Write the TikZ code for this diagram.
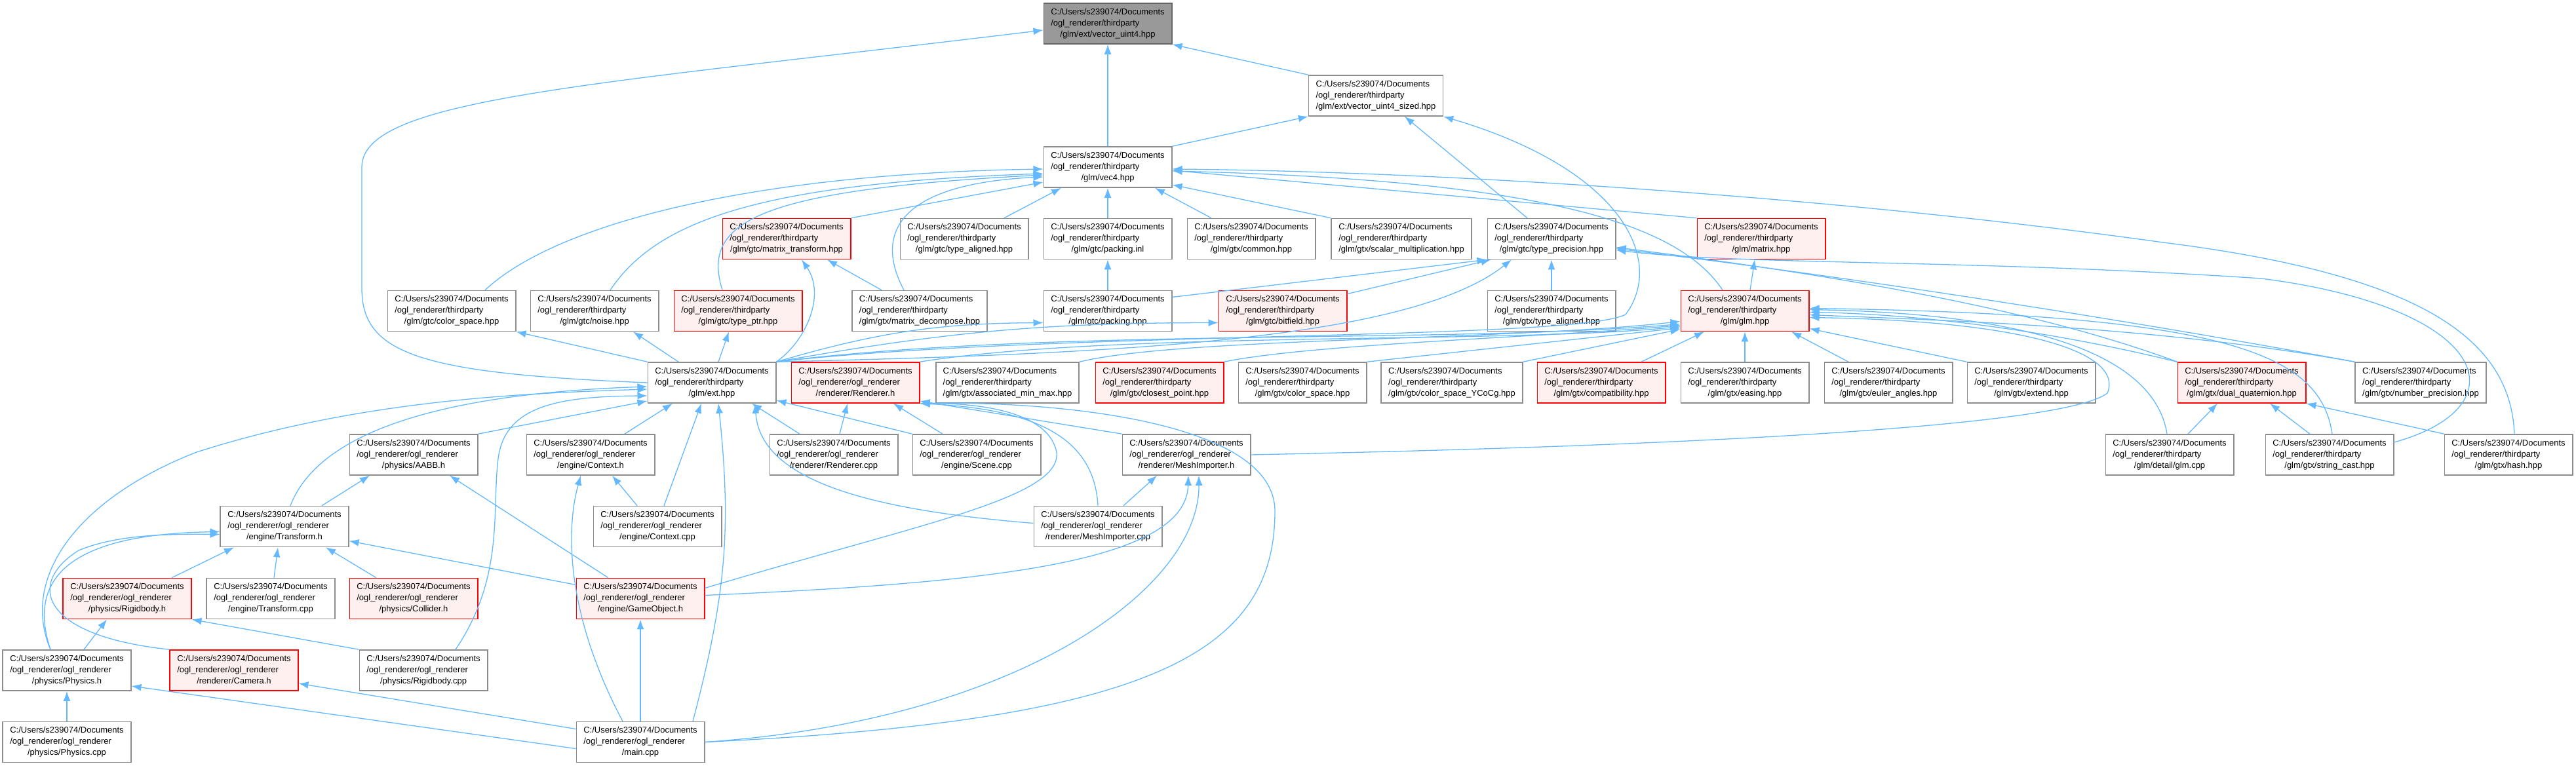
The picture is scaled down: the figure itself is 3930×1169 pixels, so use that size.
\documentclass[tikz,border=0pt]{standalone}
\usepackage{fontspec}
\setmainfont{Liberation Sans}
\usetikzlibrary{arrows.meta}

\definecolor{edgeblue}{HTML}{63B8FF}
\definecolor{boxline}{HTML}{8C8C8C}
\definecolor{rootfill}{HTML}{999999}
\definecolor{rootline}{HTML}{666666}
\definecolor{redfill}{HTML}{FFF0F0}

% three-line file label: first two lines left, last line centred
\newcommand{\fpath}[2]{\begin{tabular}{@{}l@{}}C:/Users/s239074/Documents\\/ogl\_renderer/#1\\\multicolumn{1}{@{}c@{}}{#2}\end{tabular}}

\begin{document}
\begin{tikzpicture}[
  x=1pt, y=-1pt,
  box/.style={draw=boxline, fill=white, line width=1.6pt, inner xsep=11pt, inner ysep=0pt,
              minimum width=195pt, minimum height=62pt, font=\fontsize{13}{17}\selectfont},
  redbox/.style={box, draw=red, fill=redfill},
  rootbox/.style={box, draw=rootline, fill=rootfill},
  arr/.style={-{Latex[length=15pt,width=11pt]}, draw=edgeblue, line width=1.3pt}
]
  \useasboundingbox (0,0) rectangle (3930,1169);

  % top
  \node[rootbox] (uint4)  at (1690,36)  {\fpath{thirdparty}{/glm/ext/vector\_uint4.hpp}};
  \node[box]     (uint4s) at (2099,146) {\fpath{thirdparty}{/glm/ext/vector\_uint4\_sized.hpp}};
  \node[box]     (vec4)   at (1690,255) {\fpath{thirdparty}{/glm/vec4.hpp}};

  % gtc / gtx headers
  \node[redbox] (mtrans)   at (1200,364.5) {\fpath{thirdparty}{/glm/gtc/matrix\_transform.hpp}};
  \node[box]    (gtctal)   at (1471,364.5) {\fpath{thirdparty}{/glm/gtc/type\_aligned.hpp}};
  \node[box]    (packinl)  at (1690,364.5) {\fpath{thirdparty}{/glm/gtc/packing.inl}};
  \node[box]    (common)   at (1909,364.5) {\fpath{thirdparty}{/glm/gtx/common.hpp}};
  \node[box]    (scalmul)  at (2138,364.5) {\fpath{thirdparty}{/glm/gtx/scalar\_multiplication.hpp}};
  \node[box]    (typeprec) at (2367,364.5) {\fpath{thirdparty}{/glm/gtc/type\_precision.hpp}};
  \node[redbox] (matrix)   at (2687,364.5) {\fpath{thirdparty}{/glm/matrix.hpp}};

  \node[box]    (colsp)    at (689,474.5)  {\fpath{thirdparty}{/glm/gtc/color\_space.hpp}};
  \node[box]    (noise)    at (907,474.5)  {\fpath{thirdparty}{/glm/gtc/noise.hpp}};
  \node[redbox] (typeptr)  at (1126,474.5) {\fpath{thirdparty}{/glm/gtc/type\_ptr.hpp}};
  \node[box]    (mdecomp)  at (1403,474.5) {\fpath{thirdparty}{/glm/gtx/matrix\_decompose.hpp}};
  \node[box]    (packing)  at (1690,474.5) {\fpath{thirdparty}{/glm/gtc/packing.hpp}};
  \node[redbox] (bitfield) at (1957,474.5) {\fpath{thirdparty}{/glm/gtc/bitfield.hpp}};
  \node[box]    (gtxtal)   at (2367,474.5) {\fpath{thirdparty}{/glm/gtx/type\_aligned.hpp}};
  \node[redbox] (glm)      at (2662,474.5) {\fpath{thirdparty}{/glm/glm.hpp}};

  \node[box]    (ext)      at (1086,584) {\fpath{thirdparty}{/glm/ext.hpp}};
  \node[redbox] (rendh)    at (1305,584) {\fpath{ogl\_renderer}{/renderer/Renderer.h}};
  \node[box]    (assoc)    at (1537,584) {\fpath{thirdparty}{/glm/gtx/associated\_min\_max.hpp}};
  \node[redbox] (closest)  at (1769,584) {\fpath{thirdparty}{/glm/gtx/closest\_point.hpp}};
  \node[box]    (gtxcolsp) at (1987,584) {\fpath{thirdparty}{/glm/gtx/color\_space.hpp}};
  \node[box]    (ycocg)    at (2215,584) {\fpath{thirdparty}{/glm/gtx/color\_space\_YCoCg.hpp}};
  \node[redbox] (compat)   at (2443,584) {\fpath{thirdparty}{/glm/gtx/compatibility.hpp}};
  \node[box]    (easing)   at (2662,584) {\fpath{thirdparty}{/glm/gtx/easing.hpp}};
  \node[box]    (euler)    at (2881,584) {\fpath{thirdparty}{/glm/gtx/euler\_angles.hpp}};
  \node[box]    (extend)   at (3099,584) {\fpath{thirdparty}{/glm/gtx/extend.hpp}};
  \node[redbox] (dualq)    at (3420,584) {\fpath{thirdparty}{/glm/gtx/dual\_quaternion.hpp}};
  \node[box]    (numprec)  at (3693,584) {\fpath{thirdparty}{/glm/gtx/number\_precision.hpp}};

  % project files
  \node[box] (aabb)    at (631,694)  {\fpath{ogl\_renderer}{/physics/AABB.h}};
  \node[box] (ctxh)    at (901,694)  {\fpath{ogl\_renderer}{/engine/Context.h}};
  \node[box] (rendcpp) at (1272,694) {\fpath{ogl\_renderer}{/renderer/Renderer.cpp}};
  \node[box] (scene)   at (1490,694) {\fpath{ogl\_renderer}{/engine/Scene.cpp}};
  \node[box] (meshh)   at (1810,694) {\fpath{ogl\_renderer}{/renderer/MeshImporter.h}};
  \node[box] (detglm)  at (3310,694) {\fpath{thirdparty}{/glm/detail/glm.cpp}};
  \node[box] (strcast) at (3554,694) {\fpath{thirdparty}{/glm/gtx/string\_cast.hpp}};
  \node[box] (hash)    at (3827,694) {\fpath{thirdparty}{/glm/gtx/hash.hpp}};

  \node[box] (transh)  at (434,803.5)  {\fpath{ogl\_renderer}{/engine/Transform.h}};
  \node[box] (ctxcpp)  at (1003,803.5) {\fpath{ogl\_renderer}{/engine/Context.cpp}};
  \node[box] (meshcpp) at (1675,803.5) {\fpath{ogl\_renderer}{/renderer/MeshImporter.cpp}};

  \node[redbox] (rigidh)   at (194,913.5) {\fpath{ogl\_renderer}{/physics/Rigidbody.h}};
  \node[box]    (transcpp) at (413,913.5) {\fpath{ogl\_renderer}{/engine/Transform.cpp}};
  \node[redbox] (collider) at (631,913.5) {\fpath{ogl\_renderer}{/physics/Collider.h}};
  \node[redbox] (gameobj)  at (977,913.5) {\fpath{ogl\_renderer}{/engine/GameObject.h}};

  \node[box]    (physh)    at (102,1023) {\fpath{ogl\_renderer}{/physics/Physics.h}};
  \node[redbox] (camera)   at (357,1023) {\fpath{ogl\_renderer}{/renderer/Camera.h}};
  \node[box]    (rigidcpp) at (646,1023) {\fpath{ogl\_renderer}{/physics/Rigidbody.cpp}};

  \node[box] (physcpp) at (102,1132.5) {\fpath{ogl\_renderer}{/physics/Physics.cpp}};
  \node[box] (main)    at (977,1132.5) {\fpath{ogl\_renderer}{/main.cpp}};

  % into vector_uint4 / vector_uint4_sized
  \draw[arr] (ext.west) .. controls (640,570) and (552,540) .. (552,440) -- (552,255)
             .. controls (552,150) and (900,130) .. ([yshift=-10pt]uint4.west);
  \draw[arr] (vec4) -- (uint4);
  \draw[arr] (uint4s.north west) -- (uint4.south east);
  \draw[arr] (vec4.north east) -- (uint4s.south west);
  \draw[arr] ([xshift=-37pt]typeprec.north) -- ([xshift=44pt]uint4s.south);
  \draw[arr] (ext.north east) .. controls (1600,505) and (2400,520) .. (2480,480)
             .. controls (2540,400) and (2480,260) .. (uint4s.south east);

  % into vec4
  \draw[arr] ([xshift=51pt]colsp.north) .. controls (850,340) and (1150,265) .. ([yshift=-3pt]vec4.west);
  \draw[arr] ([xshift=24pt]noise.north) .. controls (1000,340) and (1150,280) .. ([yshift=-10pt]vec4.west);
  \draw[arr] ([xshift=-24pt]typeptr.north) .. controls (1070,340) and (1150,290) .. ([yshift=-12pt]vec4.west);
  \draw[arr] (mtrans.north east) -- ([yshift=-23pt]vec4.west);
  \draw[arr] ([xshift=-24pt]mdecomp.north) .. controls (1330,350) and (1380,280) .. ([yshift=-15pt]vec4.west);
  \draw[arr] ([xshift=61pt]gtctal.north) -- ([xshift=-71pt]vec4.south);
  \draw[arr] (packinl) -- (vec4);
  \draw[arr] ([xshift=-61pt]common.north) -- ([xshift=72pt]vec4.south);
  \draw[arr] (scalmul.north west) -- ([yshift=-27pt]vec4.east);
  \draw[arr] (matrix.north west) -- ([yshift=-5pt]vec4.east);
  \draw[arr] ([xshift=-34pt]glm.north) .. controls (2560,340) and (2350,275) .. ([yshift=-6pt]vec4.east);
  \draw[arr] ([xshift=9pt]hash.north) .. controls (3830,520) and (3700,420) .. (3300,370)
             .. controls (2800,300) and (2200,262) .. ([yshift=-3pt]vec4.east);

  % gtc row
  \draw[arr] (ext.north east) .. controls (1230,520) and (1260,450) .. ([xshift=23pt]mtrans.south);
  \draw[arr] ([xshift=-58pt]mdecomp.north) -- ([xshift=62pt]mtrans.south);
  \draw[arr] (packing) -- (packinl);
  \draw[arr] ([xshift=8pt]glm.north) -- ([xshift=-10pt]matrix.south);
  \draw[arr] (gtxtal) -- (typeprec);
  \draw[arr] ([yshift=21pt]packing.east) -- (typeprec.south west);
  \draw[arr] ([yshift=26pt]bitfield.east) -- ([xshift=6pt]typeprec.south west);
  \draw[arr] (ext.north east) .. controls (1700,540) and (2150,520) .. ([xshift=-61pt]typeprec.south);

  % ext.hpp into gtc
  \draw[arr] (ext.north west) -- (colsp.south east);
  \draw[arr] ([xshift=-51pt]ext.north) -- ([xshift=59pt]noise.south);
  \draw[arr] ([xshift=10pt]ext.north) -- ([xshift=-14pt]typeptr.south);
  \draw[arr] (ext.north east) to[bend left=8] ([yshift=-18pt]packing.west);
  \draw[arr] (ext.north east) to[bend left=5] ([yshift=-18pt]bitfield.west);

  % into glm.hpp
  \draw[arr] (ext.north east) .. controls (1600,500) and (2200,525) .. ([yshift=-20pt]glm.west);
  \draw[arr] (rendh.north east) .. controls (1700,505) and (2300,525) .. ([yshift=-24pt]glm.west);
  \draw[arr] (assoc.north east) .. controls (1800,515) and (2300,520) .. ([yshift=-16pt]glm.west);
  \draw[arr] (closest.north east) .. controls (2000,525) and (2350,515) .. ([yshift=-22pt]glm.west);
  \draw[arr] (gtxcolsp.north east) -- ([yshift=-26pt]glm.west);
  \draw[arr] (ycocg.north east) -- ([yshift=-28pt]glm.west);
  \draw[arr] ([xshift=61pt]compat.north) -- ([xshift=-62pt]glm.south);
  \draw[arr] (easing) -- (glm);
  \draw[arr] ([xshift=-61pt]euler.north) -- ([xshift=71pt]glm.south);
  \draw[arr] (extend.north west) -- ([yshift=-27pt]glm.east);
  \draw[arr] (dualq.north west) .. controls (3150,510) and (2950,480) .. ([yshift=-2pt]glm.east);
  \draw[arr] (numprec.north west) .. controls (3300,500) and (3000,490) .. ([yshift=-6pt]glm.east);
  \draw[arr] ([xshift=-4pt]detglm.north) .. controls (3290,560) and (3150,480) .. ([yshift=2pt]glm.east);
  \draw[arr] ([xshift=4pt]strcast.north) .. controls (3540,540) and (3400,480) .. ([yshift=4pt]glm.east);
  \draw[arr] (meshh.east) .. controls (2600,680) and (3150,650) .. (3215,600)
             .. controls (3240,540) and (3100,490) .. ([yshift=-10pt]glm.east);

  % into type_precision from the right
  \draw[arr] ([yshift=19pt]strcast.east) .. controls (3850,620) and (3800,470) .. (3450,425)
             .. controls (3000,395) and (2650,405) .. ([yshift=-17pt]typeprec.east);
  \draw[arr] (numprec.north west) .. controls (3200,480) and (2800,420) .. ([yshift=-15pt]typeprec.east);
  \draw[arr] (dualq.north west) .. controls (3100,470) and (2800,420) .. ([yshift=-13pt]typeprec.east);

  % into dual_quaternion
  \draw[arr] ([xshift=28pt]detglm.north) -- ([xshift=-37pt]dualq.south);
  \draw[arr] ([xshift=-30pt]strcast.north) -- ([xshift=43pt]dualq.south);
  \draw[arr] (hash.north west) -- (dualq.south east);

  % into ext.hpp
  \draw[arr] ([xshift=-25pt]physh.north) .. controls (30,880) and (120,760) .. (300,690)
             .. controls (550,610) and (800,600) .. ([yshift=-10pt]ext.west);
  \draw[arr] ([xshift=9pt]transh.north) .. controls (490,650) and (700,600) .. ([yshift=-6pt]ext.west);
  \draw[arr] ([xshift=49pt]rigidcpp.north) .. controls (770,880) and (750,780) .. (760,700)
             .. controls (770,620) and (850,605) .. ([yshift=-20pt]ext.west);
  \draw[arr] (aabb.north east) -- ([yshift=-28pt]ext.west);
  \draw[arr] ([xshift=52pt]ctxh.north) -- ([xshift=-60pt]ext.south);
  \draw[arr] ([xshift=10pt]ctxcpp.north) -- ([xshift=-16pt]ext.south);
  \draw[arr] ([xshift=80pt]main.north) .. controls (1110,900) and (1115,800) .. ([xshift=10pt]ext.south);
  \draw[arr] ([xshift=-52pt]rendcpp.north) -- ([xshift=61pt]ext.south);
  \draw[arr] (scene.north west) -- ([yshift=-27pt]ext.east);
  \draw[arr] ([yshift=5pt]meshcpp.west) .. controls (1350,780) and (1160,740) .. ([xshift=66pt]ext.south);

  % into Renderer.h
  \draw[arr] ([xshift=9pt]rendcpp.north) -- ([xshift=-12pt]rendh.south);
  \draw[arr] ([xshift=-52pt]scene.north) -- ([xshift=58pt]rendh.south);
  \draw[arr] (meshh.north west) -- ([yshift=-28pt]rendh.east);
  \draw[arr] ([yshift=16pt]gameobj.east) .. controls (1400,800) and (1620,760) .. (1612,690)
             .. controls (1600,630) and (1500,615) .. (rendh.south east);
  \draw[arr] (meshcpp.north) .. controls (1670,680) and (1600,625) .. (rendh.south east);
  \draw[arr] (main.east) .. controls (1750,1100) and (1945,1000) .. (1945,780)
             .. controls (1945,640) and (1600,612) .. (rendh.south east);

  % into MeshImporter.h
  \draw[arr] ([xshift=39pt]meshcpp.north) -- ([xshift=-45pt]meshh.south);
  \draw[arr] ([yshift=5pt]gameobj.east) .. controls (1500,890) and (1810,860) .. ([xshift=3pt]meshh.south);
  \draw[arr] (main.east) .. controls (1550,1100) and (1830,900) .. ([xshift=19pt]meshh.south);

  % engine / physics
  \draw[arr] ([xshift=57pt]transh.north) -- ([xshift=-67pt]aabb.south);
  \draw[arr] ([xshift=-49pt]gameobj.north) -- ([xshift=55pt]aabb.south);
  \draw[arr] ([xshift=-31pt]ctxcpp.north) -- ([xshift=33pt]ctxh.south);
  \draw[arr] ([xshift=-27pt]main.north) .. controls (870,950) and (860,820) .. ([xshift=-15pt]ctxh.south);
  \draw[arr] ([xshift=68pt]rigidh.north) -- ([xshift=-77pt]transh.south);
  \draw[arr] ([xshift=5pt]transcpp.north) -- ([xshift=-10pt]transh.south);
  \draw[arr] ([xshift=-57pt]collider.north) -- ([xshift=63pt]transh.south);
  \draw[arr] ([yshift=21pt]gameobj.west) -- ([yshift=-22pt]transh.east);
  \draw[arr] ([xshift=-25pt]physh.north) .. controls (40,880) and (110,815) .. ([yshift=-8pt]transh.west);
  \draw[arr] (camera.north west) .. controls (60,970) and (40,890) .. (120,840)
             .. controls (180,815) and (260,815) .. ([yshift=-12pt]transh.west);
  \draw[arr] ([xshift=26pt]physh.north) -- ([xshift=-31pt]rigidh.south);
  \draw[arr] (rigidcpp.north west) -- (rigidh.south east);
  \draw[arr] (physcpp) -- (physh);
  \draw[arr] ([yshift=-10pt]main.west) -- ([yshift=-24pt]physh.east);
  \draw[arr] ([yshift=20pt]main.west) -- ([yshift=-20pt]camera.east);
  \draw[arr] (main) -- (gameobj);
\end{tikzpicture}
\end{document}
